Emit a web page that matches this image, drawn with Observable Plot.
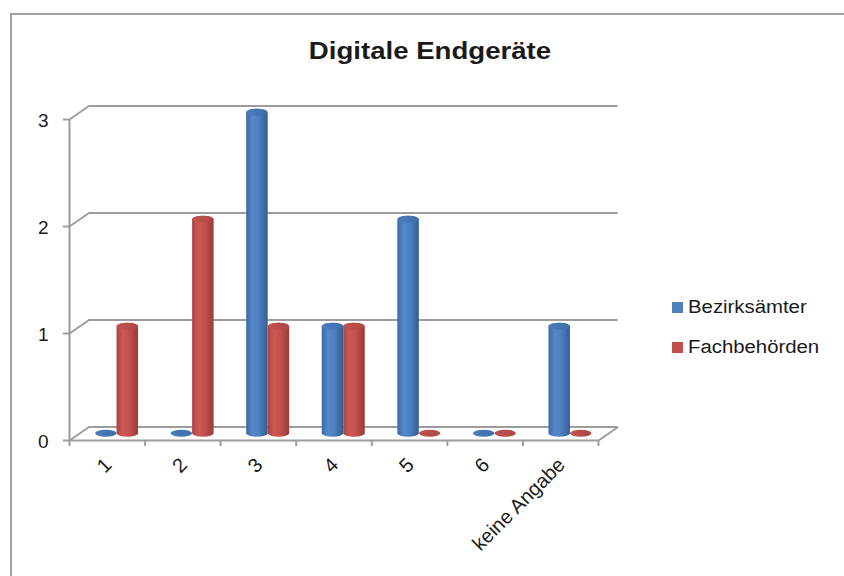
<!DOCTYPE html>
<html>
<head>
<meta charset="utf-8">
<script src="https://cdn.jsdelivr.net/npm/d3@7"></script>
<script src="https://cdn.jsdelivr.net/npm/@observablehq/plot@0.6"></script>
<style>
  html, body { margin: 0; padding: 0; background: #fff; overflow: hidden; }
  #chart { position: relative; width: 844px; height: 576px; font-family: "Liberation Sans", Arial, sans-serif; color: #1a1a1a; overflow: hidden; }
  #border { position: absolute; left: 10px; top: 13px; width: 900px; height: 700px; border-left: 2px solid #a0a0a0; border-top: 2px solid #a0a0a0; box-sizing: border-box; }
  #plot { position: absolute; left: 0; top: 0; }
  #title { position: absolute; left: 0; top: 40px; width: 860px; text-align: center; font-size: 23px; font-weight: bold; line-height: 23px; transform: scaleX(1.2); }
  .item { position: absolute; left: 672px; height: 18px; line-height: 18px; font-size: 18px; white-space: nowrap; }
  .swatch { position: absolute; left: 0; top: 4px; width: 11px; height: 11px; }
  .label { position: absolute; left: 16px; top: 0; transform: scaleX(1.13); transform-origin: left center; }
</style>
</head>
<body>
<div id="chart">
  <div id="border"></div>
  <div id="plot"></div>
  <div id="title"></div>
  <div id="legend"></div>
</div>
<script>
// Chart data
const title = "Digitale Endgeräte";
const categories = ["1", "2", "3", "4", "5", "6", "keine Angabe"];
const seriesNames = ["Bezirksämter", "Fachbehörden"];
const bezirksaemter = [0, 0, 3, 1, 2, 0, 1];
const fachbehoerden = [1, 2, 1, 1, 0, 0, 0];
const yTicks = [0, 1, 2, 3];
const seriesColors = ["#4f81bd", "#c0504d"];

// Layout of the pseudo-3D box (front plane pixel ranges, depth offset in pixels)
const X_RANGE = [69, 598];
const Y_RANGE = [440, 119];
const n = categories.length;
const yMax = yTicks[yTicks.length - 1];
const pxX = p => p * n / (X_RANGE[1] - X_RANGE[0]);
const pxY = p => p * (yMax - yTicks[0]) / (Y_RANGE[0] - Y_RANGE[1]);
const DEPTH = {x: pxX(19.5), y: pxY(13.5)};
const BAR_W = pxX(21.5);
const BAR_RX = 10.75;
const CAP_RY = 3.5;
const GRID = "#9c9c9c";
const GRID_W = 2;

const seriesValues = [bezirksaemter, fachbehoerden];
const bars = seriesValues.map((values, s) =>
  categories.map((c, i) => ({category: c, i, s, value: values[i]}))
);

// bars stand in the middle of the box depth
const barX1 = d => d.i + 0.5 + DEPTH.x / 2 + (d.s === 0 ? -BAR_W : 0);
const barX2 = d => barX1(d) + BAR_W;
const base = DEPTH.y / 2;

const marks = [
  // back wall gridlines
  Plot.ruleY(yTicks, {y: d => d + DEPTH.y, x1: DEPTH.x, x2: n + DEPTH.x, stroke: GRID, strokeWidth: GRID_W}),
  // side wall diagonals
  Plot.link(yTicks, {x1: 0, y1: d => d, x2: DEPTH.x, y2: d => d + DEPTH.y, stroke: GRID, strokeWidth: GRID_W}),
  // floor front and right edges
  Plot.ruleY([0], {x1: 0, x2: n, stroke: GRID, strokeWidth: GRID_W}),
  Plot.link([0], {x1: n, y1: 0, x2: n + DEPTH.x, y2: DEPTH.y, stroke: GRID, strokeWidth: GRID_W}),
  // value axis line and ticks
  Plot.ruleX([0], {y1: 0, y2: yMax, stroke: GRID, strokeWidth: GRID_W}),
  Plot.ruleY(yTicks, {x1: -pxX(6), x2: 0, stroke: GRID, strokeWidth: GRID_W}),
  // category boundary ticks
  Plot.ruleX(d3.range(n + 1), {y1: 0, y2: -pxY(6), stroke: GRID, strokeWidth: GRID_W}),
  // tick labels
  Plot.text(yTicks, {x: 0, y: d => d, text: d => String(d), textAnchor: "end", dx: -21, dy: 1.5, fontSize: 19, fill: "#1a1a1a"}),
  Plot.text(categories, {x: (d, i) => i + 0.5, y: 0, text: d => d, rotate: -45, textAnchor: "end", dx: 1, dy: 21, fontSize: 20, fill: "#1a1a1a"})
];

// cylinders: body + top ellipse
bars.forEach((data, s) => {
  marks.push(Plot.rect(data.filter(d => d.value > 0), {
    x1: barX1, x2: barX2, y1: base, y2: d => d.value + base,
    insetTop: -CAP_RY, insetBottom: -CAP_RY, rx: BAR_RX, ry: CAP_RY,
    fill: `url(#body${s})`
  }));
  marks.push(Plot.rect(data, {
    x1: barX1, x2: barX2, y1: d => d.value + base, y2: d => d.value + base,
    insetTop: -CAP_RY, insetBottom: -CAP_RY, rx: BAR_RX, ry: CAP_RY,
    fill: `url(#cap${s})`
  }));
});

const svg = Plot.plot({
  width: 844,
  height: 576,
  x: {domain: [0, n], range: X_RANGE, axis: null},
  y: {domain: [yTicks[0], yMax], range: Y_RANGE, axis: null},
  style: {fontFamily: "'Liberation Sans', Arial, sans-serif", fontSize: "18px", background: "transparent", overflow: "visible"},
  marks
});

// cylinder shading
const defs = d3.select(svg).insert("defs", ":first-child");
const bodyStops = [
  [["0", "#3c6aa3"], ["0.3", "#5689c9"], ["0.6", "#4c7fbe"], ["1", "#335d92"]],
  [["0", "#a84542"], ["0.3", "#cc5956"], ["0.6", "#c24f4c"], ["1", "#983c3a"]]
];
const capStops = [
  [["0", "#4a7dbd"], ["1", "#3f6ea9"]],
  [["0", "#c45350"], ["1", "#ad4643"]]
];
function gradient(id, stops) {
  const g = defs.append("linearGradient").attr("id", id).attr("x1", 0).attr("x2", 1).attr("y1", 0).attr("y2", 0);
  stops.forEach(([o, c]) => g.append("stop").attr("offset", o).attr("stop-color", c));
}
bodyStops.forEach((st, s) => gradient(`body${s}`, st));
capStops.forEach((st, s) => gradient(`cap${s}`, st));

document.getElementById("plot").appendChild(svg);
document.getElementById("title").textContent = title;

const legend = d3.select("#legend");
seriesNames.forEach((name, s) => {
  const item = legend.append("div").attr("class", "item").style("top", `${298 + s * 39.5}px`);
  item.append("span").attr("class", "swatch").style("background", seriesColors[s]);
  item.append("span").attr("class", "label").text(name);
});
</script>
</body>
</html>
